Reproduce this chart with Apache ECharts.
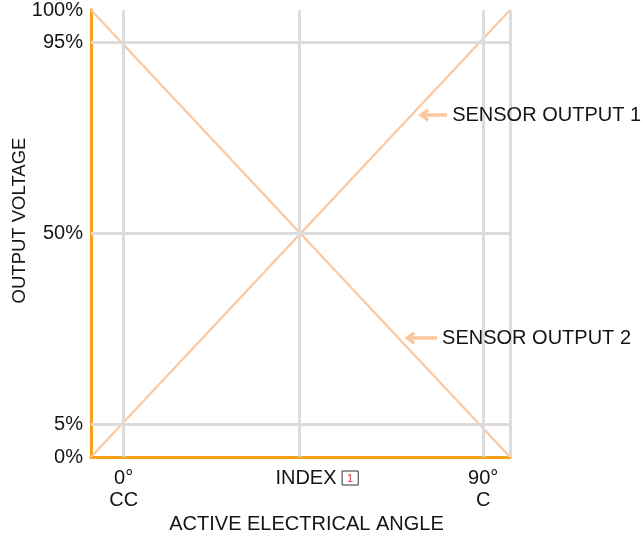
<!DOCTYPE html>
<html>
<head>
<meta charset="utf-8">
<script src="https://cdn.jsdelivr.net/npm/echarts@6/dist/echarts.min.js"></script>
<style>html,body{margin:0;padding:0;background:#fff}#c{width:643px;height:539px}</style>
</head>
<body>
<div id="c"></div>
<script>
// Positions expressed in plot-fraction units (0..100) of the schematic
var xGridValues = [7.8, 49.6, 93.6, 100];
var xTickLabels = ['0°\nCC', 'INDEX {box|1}', '90°\nC', ''];
var yGridValues = [7.3, 50, 92.7];
var yTickValues = [0, 7.3, 50, 92.7, 100];
var yTickLabels = ['0%', '5%', '50%', '95%', '100%'];
var sensor1 = [[0, 0], [100, 100]];
var sensor2 = [[0, 100], [100, 0]];
var callouts = [
  {name: 'SENSOR OUTPUT 1', from: [85.0, 76.5], to: [79.4, 76.5]},
  {name: 'SENSOR OUTPUT 2', from: [82.6, 26.6], to: [76.1, 26.6]}
];

var FONT = 'Liberation Sans';
var FS = 20;
var TXT = '#151515';
var PEACH = '#FCC79E';
var ORANGE = '#F7A11C';
var GRID = '#DCDCDC';
var CHEVRON = 'path://M5,0 L10,7 L8,8.6 L5,4.4 L2,8.6 L0,7 Z';

var chart = echarts.init(document.getElementById('c'));

var gridLines = [];
xGridValues.forEach(function (v, i) {
  var lab = {show: true, formatter: xTickLabels[i]};
  if (xTickLabels[i].indexOf('{box|') >= 0) lab.padding = [0, 0, 0, 36];
  gridLines.push([{coord: [v, 0], label: lab}, {coord: [v, 100]}]);
});
yGridValues.forEach(function (v) {
  gridLines.push([{coord: [0, v], label: {show: false}}, {coord: [100, v]}]);
});

var calloutLines = callouts.map(function (c) {
  return [{coord: c.to, name: c.name}, {coord: c.from, name: c.name}];
});

function calloutMarkLine(i) {
  return {
    silent: true, symbol: [CHEVRON, 'none'], symbolSize: [13, 11],
    lineStyle: {color: PEACH, width: 3.5, type: 'solid'},
    itemStyle: {color: PEACH},
    label: {show: true, position: 'end', distance: 5, color: TXT, fontSize: FS,
            fontFamily: FONT, formatter: '{b}'},
    data: [calloutLines[i]]
  };
}

chart.setOption({
  animation: false,
  textStyle: {fontFamily: FONT},
  grid: {left: 91, right: 133, top: 10, bottom: 82, containLabel: false, outerBoundsMode: 'none'},
  xAxis: {
    type: 'value', min: 0, max: 100,
    name: 'ACTIVE ELECTRICAL ANGLE', nameLocation: 'middle', nameGap: 57,
    nameTextStyle: {color: TXT, fontSize: FS, fontFamily: FONT, padding: [0, 0, 0, 12]},
    axisLine: {show: true, onZero: false, lineStyle: {color: ORANGE, width: 3}},
    axisTick: {show: false}, axisLabel: {show: false}, splitLine: {show: false}
  },
  yAxis: {
    type: 'value', min: 0, max: 100,
    name: 'OUTPUT VOLTAGE', nameLocation: 'middle', nameGap: 62, nameMoveOverlap: false,
    nameTextStyle: {color: TXT, fontSize: 18.5, fontFamily: FONT, padding: [0, 0, 0, 26]},
    axisLine: {show: true, onZero: false, lineStyle: {color: ORANGE, width: 3}},
    axisTick: {show: false},
    axisLabel: {
      show: true, customValues: yTickValues, color: TXT, fontSize: FS, margin: 8,
      formatter: function (v) {
        var i = yTickValues.indexOf(v);
        return i >= 0 ? yTickLabels[i] : '';
      }
    },
    splitLine: {show: false}
  },
  series: [
    {
      type: 'line', data: [], z: 1, silent: true,
      markLine: {
        silent: true, symbol: ['none', 'none'], animation: false,
        lineStyle: {color: GRID, width: 3, type: 'solid'},
        label: {
          show: true, position: 'start', distance: 10, color: TXT, fontSize: FS,
          fontFamily: FONT, lineHeight: 22, align: 'center',
          rich: {
            box: {color: '#e0303a', fontSize: 11, borderColor: '#333', borderWidth: 1,
                  padding: [2, 5, 1, 5], lineHeight: 14, fontFamily: FONT}
          }
        },
        data: gridLines
      }
    },
    {
      type: 'line', name: 'SENSOR OUTPUT 1', data: sensor1, z: 3, symbol: 'none',
      lineStyle: {color: PEACH, width: 2.2},
      markLine: calloutMarkLine(0)
    },
    {
      type: 'line', name: 'SENSOR OUTPUT 2', data: sensor2, z: 3, symbol: 'none',
      lineStyle: {color: PEACH, width: 2.2},
      markLine: calloutMarkLine(1)
    }
  ]
});
</script>
</body>
</html>
